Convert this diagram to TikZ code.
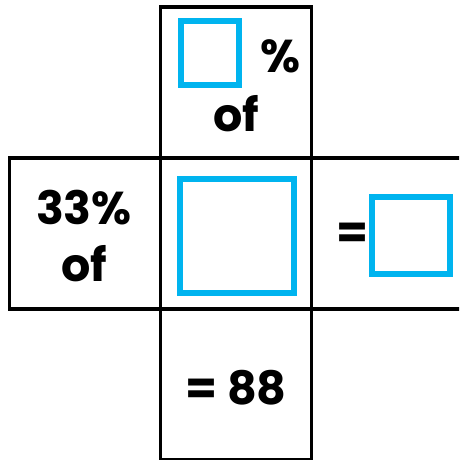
\documentclass[tikz,border=0pt]{standalone}
\usepackage{fontspec}
\setmainfont{Poppins}
\usepackage{xcolor}
\usepackage{tikz}
\usetikzlibrary{positioning}
\definecolor{boxblue}{HTML}{00B4EF}

\tikzset{
  cell/.style={draw=black, line width=3.5pt, minimum size=151pt, inner sep=0pt, outer sep=0pt},
  answerbox/.style={draw=boxblue, line width=6pt, inner sep=0pt},
  sumtext/.style={font=\fontsize{46}{57}\selectfont\bfseries, inner sep=0pt, align=center}
}

\begin{document}
\begin{tikzpicture}[x=1pt, y=-1pt]
    \clip (0,0) rectangle (459,460);
    \node[cell] (mid) at (236,233.5) {};
    \node[cell, above=0pt of mid] (top) {};
    \node[cell, below=0pt of mid] (bottom) {};
    \node[cell, left=0pt of mid] (left) {};
    \node[cell, right=0pt of mid] (right) {};

    \node[answerbox, minimum width=58pt, minimum height=64pt] (topbox) at (209.5,53.3) {};
    \node[sumtext] (percent) at (281,56) {\%};
    \node[sumtext] (topof) at (236.5,113.5) {of};

    \node[sumtext] (given) at (84,236) {33\%\\of};
    \node[answerbox, minimum size=114pt] (midbox) at (236.7,235.5) {};

    \node[sumtext] (equals) at (353,235.5) {=};
    \node[answerbox, minimum width=78pt, minimum height=77pt] (rightbox) at (411,235.5) {};

    \node[sumtext] (result) at (236,387.5) {= 88};
  \end{tikzpicture}
\end{document}
